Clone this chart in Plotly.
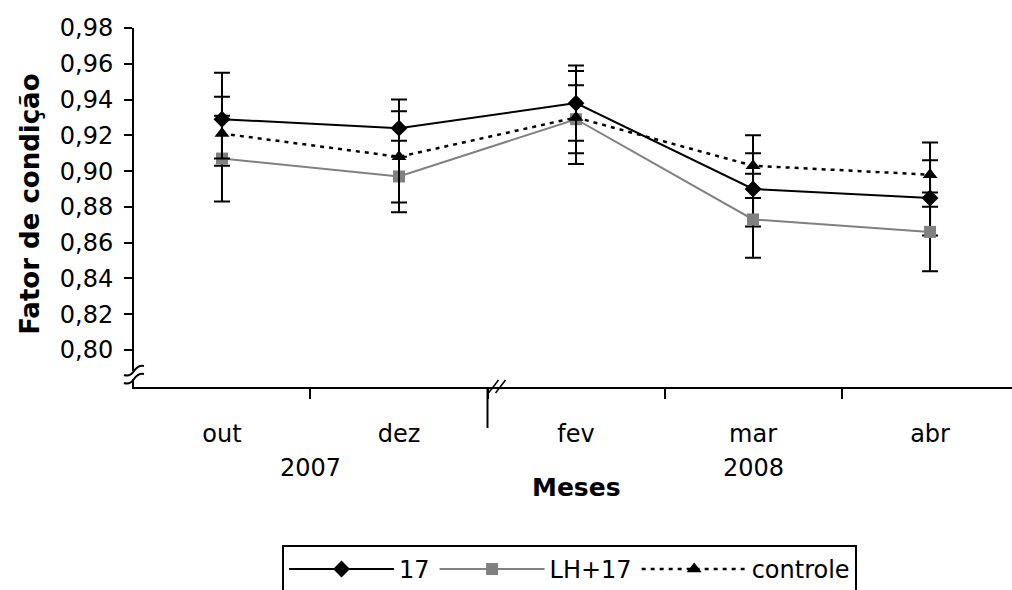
import plotly.graph_objects as go

# Months sampled and condition factor means with error bar half-widths
months = ["out", "dez", "fev", "mar", "abr"]
years = ["2007", "2008"]

k17 = [0.929, 0.924, 0.938, 0.890, 0.885]
k17_plus = [0.026, 0.016, 0.021, 0.020, 0.021]
k17_minus = [0.026, 0.016, 0.021, 0.021, 0.021]

lh17 = [0.907, 0.897, 0.929, 0.873, 0.866]
lh17_plus = [0.024, 0.020, 0.019, 0.0255, 0.022]
lh17_minus = [0.024, 0.020, 0.019, 0.0215, 0.022]

ctrl = [0.921, 0.908, 0.930, 0.903, 0.898]
ctrl_plus = [0.0205, 0.0255, 0.026, 0.017, 0.018]
ctrl_minus = [0.014, 0.0255, 0.026, 0.018, 0.018]

FONT = "DejaVu Sans"
FS = 24

def err(plus, minus):
    return dict(type="data", array=plus, arrayminus=minus, symmetric=False,
                color="black", thickness=2, width=8)

fig = go.Figure()
fig.add_trace(go.Scatter(
    x=months, y=k17, name="17", mode="lines+markers",
    line=dict(color="black", width=2),
    marker=dict(symbol="diamond", size=13, color="black"),
    error_y=err(k17_plus, k17_minus)))
fig.add_trace(go.Scatter(
    x=months, y=lh17, name="LH+17", mode="lines+markers",
    line=dict(color="#808080", width=2),
    marker=dict(symbol="square", size=12, color="#808080"),
    error_y=err(lh17_plus, lh17_minus)))
fig.add_trace(go.Scatter(
    x=months, y=ctrl, name="controle", mode="lines+markers",
    line=dict(color="black", width=2.5, dash="4px,5px"),
    marker=dict(symbol="triangle-up", size=13, color="black"),
    error_y=err(ctrl_plus, ctrl_minus)))

fig.update_layout(
    width=1012, height=590,
    margin=dict(l=134, r=0, t=28, b=203, autoexpand=False),
    paper_bgcolor="white", plot_bgcolor="white",
    separators=",.",
    font=dict(family=FONT, size=FS, color="black"),
    showlegend=True,
    legend=dict(orientation="h", x=0.1686, y=-0.44, xanchor="left", yanchor="top",
                bordercolor="black", borderwidth=2, bgcolor="white",
                font=dict(family=FONT, size=FS), itemwidth=105, tracegroupgap=0),
)

fig.update_xaxes(
    type="category", range=[-0.497, 4.463],
    showline=True, linecolor="black", linewidth=2,
    ticks="outside", tickson="boundaries", ticklen=10, tickwidth=2, tickcolor="black",
    showgrid=False, zeroline=False, automargin=False,
    tickfont=dict(family=FONT, size=FS), ticklabelstandoff=24,
)
fig.update_yaxes(
    range=[0.7793, 0.98], tickmode="array",
    tickvals=[0.80, 0.82, 0.84, 0.86, 0.88, 0.90, 0.92, 0.94, 0.96, 0.98],
    tickformat=".2f",
    showline=True, linecolor="black", linewidth=2,
    ticks="outside", ticklen=8, tickwidth=2, tickcolor="black",
    showgrid=False, zeroline=False, automargin=False,
    tickfont=dict(family=FONT, size=FS), ticklabelstandoff=6,
)

# Year labels under the month ticks
fig.add_annotation(text=years[0], x=0.5, xref="x", y=-0.2256, yref="paper",
                   showarrow=False, yanchor="middle", font=dict(family=FONT, size=FS))
fig.add_annotation(text=years[1], x=3, xref="x", y=-0.2256, yref="paper",
                   showarrow=False, yanchor="middle", font=dict(family=FONT, size=FS))
# Axis titles
fig.add_annotation(text="<b>Meses</b>", x=2, xref="x", y=-0.2786, yref="paper",
                   showarrow=False, yanchor="middle", font=dict(family=FONT, size=25))
fig.add_annotation(text="<b>Fator de condição</b>", x=-0.1185, xref="paper", y=0.51, yref="paper",
                   showarrow=False, textangle=-90, xanchor="center", yanchor="middle",
                   font=dict(family=FONT, size=26))

# Axis break marks
shapes = []
# long tick separating the two years
shapes.append(dict(type="line", xref="x", x0=1.5, x1=1.5, yref="paper", ysizemode="pixel",
                   yanchor=0, y0=0, y1=-41, line=dict(color="black", width=2)))
# "//" on the x axis
for dx in (0, 7):
    shapes.append(dict(type="line", xref="x", xsizemode="pixel", xanchor=1.5,
                       x0=1 + dx, x1=11 + dx, yref="paper", ysizemode="pixel",
                       yanchor=0, y0=-6, y1=7, line=dict(color="black", width=1.5)))
# wavy break on the y axis
shapes.append(dict(type="rect", xref="paper", xsizemode="pixel", xanchor=0, x0=-3, x1=3,
                   yref="paper", ysizemode="pixel", yanchor=0, y0=8, y1=16,
                   fillcolor="white", line=dict(width=0)))
for dy in (0, 8):
    shapes.append(dict(type="path", xref="paper", xsizemode="pixel", xanchor=0,
                       yref="paper", ysizemode="pixel", yanchor=0,
                       path=f"M -10,{4 + dy} Q -4,{2 + dy} 0,{8 + dy} T 10,{13 + dy}",
                       line=dict(color="black", width=2)))
fig.update_layout(shapes=shapes)

fig.write_html("out.html")
